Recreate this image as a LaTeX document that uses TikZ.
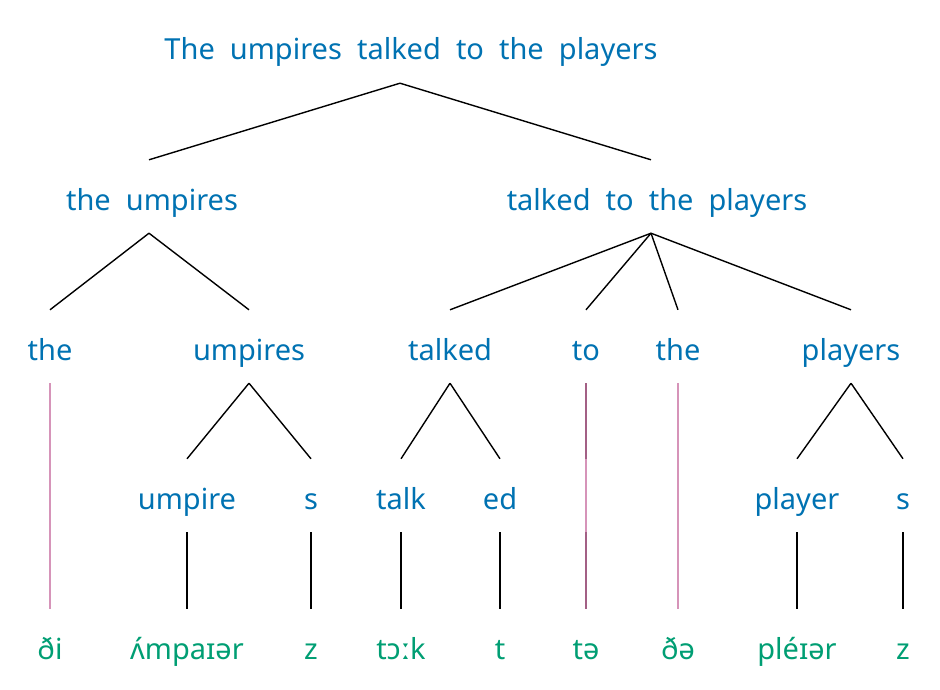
\documentclass[tikz,border=0pt]{standalone}
\usepackage{fontspec}
\setmainfont[WordSpace=2]{Noto Sans}
\definecolor{wordblue}{RGB}{0,114,178}
\definecolor{ipagreen}{RGB}{0,158,115}
\definecolor{linkpink}{RGB}{204,121,167}
\begin{document}
\begin{tikzpicture}[x=1pt,y=-1pt,every node/.style={anchor=base, font=\fontsize{29}{34}\selectfont, text height=46pt, text depth=19pt, inner xsep=0pt, inner ysep=4pt},word/.style={text=wordblue},ipa/.style={text=ipagreen},branch/.style={line width=1.4pt},link/.style={draw=linkpink, line width=1.4pt, opacity=0.8}]
\useasboundingbox (0,0) rectangle (940,690);
\node[word] (s) at (411,60) {The umpires talked to the players};
\node[word] (np) at (152,210) {the umpires};
\node[word] (vp) at (657,210) {talked to the players};
\node[word] (det1) at (50,360) {the};
\node[word] (n1) at (249,360) {umpires};
\node[word] (v) at (450,360) {talked};
\node[word] (p) at (586,360) {to};
\node[word] (det2) at (678,360) {the};
\node[word] (n2) at (851,360) {players};
\node[word] (umpire) at (187,509) {umpire};
\node[word] (s1) at (311,509) {s};
\node[word] (talk) at (401,509) {talk};
\node[word] (ed) at (500,509) {ed};
\node[word] (player) at (797,509) {player};
\node[word] (s2) at (903,509) {s};
\node[ipa] (ipa1) at (50,659) {ði};
\node[ipa] (ipa2) at (187,659) {ʌ́mpaɪər};
\node[ipa] (ipa3) at (311,659) {z};
\node[ipa] (ipa4) at (401,659) {tɔːk};
\node[ipa] (ipa5) at (500,659) {t};
\node[ipa] (ipa6) at (586,659) {tə};
\node[ipa] (ipa7) at (678,659) {ðə};
\node[ipa] (ipa8) at (797,659) {pléɪər};
\node[ipa] (ipa9) at (903,659) {z};
\draw[branch] ([xshift=-11pt]s.south) -- ([xshift=-3pt]np.north);
\draw[branch] ([xshift=-11pt]s.south) -- ([xshift=-6pt]vp.north);
\foreach \c in {det1,n1} \draw[branch] ([xshift=-3pt]np.south) -- (\c.north);
\foreach \c in {v,p,det2,n2} \draw[branch] ([xshift=-6pt]vp.south) -- (\c.north);
\foreach \a/\c in {n1/umpire,n1/s1,v/talk,v/ed,n2/player,n2/s2} \draw[branch] (\a.south) -- (\c.north);
\foreach \a/\c in {umpire/ipa2,s1/ipa3,talk/ipa4,ed/ipa5,player/ipa8,s2/ipa9} \draw[branch] (\a.south) -- (\c.north);
\draw[branch] (p.south) -- (p.south |- talk.north);
\draw[branch] (p.south |- talk.south) -- (ipa6.north);
\foreach \a/\c in {det1/ipa1,p/ipa6,det2/ipa7} \draw[link] (\a.south) -- (\c.north);
\end{tikzpicture}
\end{document}
